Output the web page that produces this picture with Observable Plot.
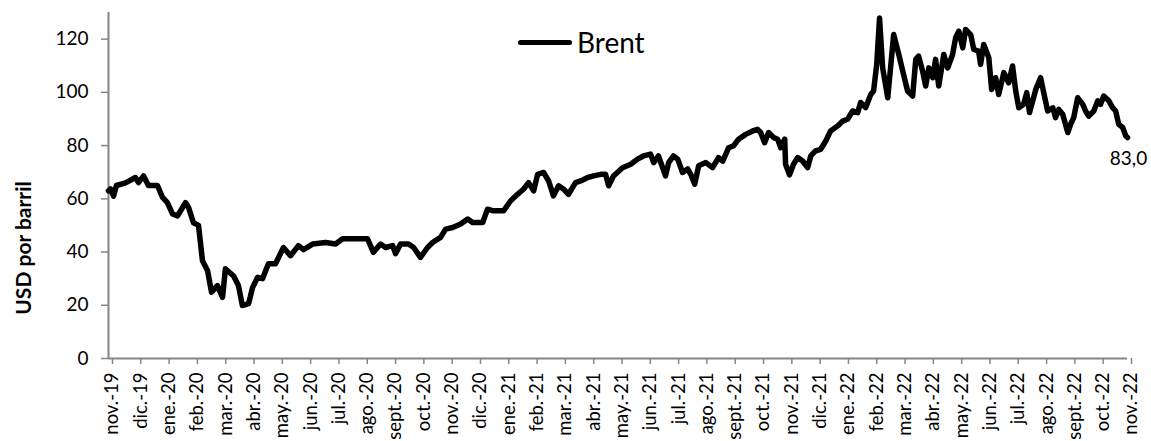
<!DOCTYPE html>
<html><head><meta charset="utf-8">
<script src="https://cdn.jsdelivr.net/npm/d3@7"></script>
<script src="https://cdn.jsdelivr.net/npm/@observablehq/plot@0.6"></script>
<style>
body{margin:0;background:#fff;}
#wrap{position:relative;width:1151px;height:441px;font-family:Lato,sans-serif;color:#000;}
#legend{position:absolute;left:518px;top:22px;height:40px;display:flex;align-items:center;font-size:28px;}
#legend .sw{display:inline-block;width:54px;height:5px;background:#000;border-radius:3px;margin-right:5px;}
#ytitle{position:absolute;left:22px;top:248px;transform:translate(-50%,-50%) rotate(-90deg);white-space:nowrap;font-weight:bold;font-size:21px;}
</style></head><body>
<div id="wrap"><div id="chart"></div>
<div id="legend"><span class="sw"></span><span>Brent</span></div>
<div id="ytitle">USD por barril</div>
</div>
<script>
const monthLabels = ["nov.-19","dic.-19","ene.-20","feb.-20","mar.-20","abr.-20","may.-20","jun.-20","jul.-20","ago.-20","sept.-20","oct.-20","nov.-20","dic.-20","ene.-21","feb.-21","mar.-21","abr.-21","may.-21","jun.-21","jul.-21","ago.-21","sept.-21","oct.-21","nov.-21","dic.-21","ene.-22","feb.-22","mar.-22","abr.-22","may.-22","jun.-22","jul.-22","ago.-22","sept.-22","oct.-22","nov.-22"];
const yTicks = [0,20,40,60,80,100,120];
// time position in months since nov.-19
const monthPos = [0,0.07,0.18,0.28,0.60,0.95,1.06,1.24,1.41,1.73,1.91,2.08,2.26,2.44,2.72,2.83,3.00,3.18,3.32,3.50,3.64,3.85,4.03,4.13,4.42,4.59,4.73,4.95,5.09,5.27,5.44,5.65,5.90,6.18,6.43,6.71,6.89,7.21,7.67,8.02,8.27,8.73,9.01,9.15,9.36,9.61,9.79,10.04,10.14,10.32,10.60,10.78,11.02,11.27,11.45,11.73,11.91,12.16,12.44,12.69,12.86,13.22,13.39,13.60,13.96,14.20,14.45,14.66,14.84,15.02,15.16,15.37,15.55,15.72,15.90,16.08,16.25,16.50,16.68,16.93,17.14,17.39,17.56,17.67,17.84,18.16,18.45,18.69,18.90,19.15,19.26,19.43,19.68,19.79,19.96,20.11,20.28,20.46,20.57,20.71,20.85,21.10,21.34,21.55,21.70,21.91,22.08,22.26,22.51,22.76,22.93,23.04,23.18,23.32,23.50,23.64,23.75,23.89,23.92,24.06,24.20,24.35,24.52,24.70,24.81,24.98,25.16,25.34,25.51,25.76,25.94,26.11,26.29,26.47,26.57,26.75,26.93,27.03,27.14,27.24,27.35,27.53,27.74,27.92,28.06,28.23,28.41,28.52,28.62,28.76,28.87,28.98,29.12,29.22,29.33,29.51,29.65,29.82,29.93,30.04,30.18,30.28,30.46,30.57,30.74,30.81,30.92,31.10,31.20,31.34,31.45,31.63,31.80,31.94,32.05,32.16,32.33,32.44,32.54,32.76,32.93,33.04,33.18,33.36,33.46,33.57,33.71,33.89,33.99,34.10,34.24,34.42,34.52,34.63,34.81,34.95,35.05,35.16,35.34,35.48,35.58,35.69,35.83,35.94,36.00];
const brent = [63.0,63.7,61.0,65.0,66.0,68.0,66.1,68.6,65.0,65.0,60.5,58.6,54.3,53.6,58.6,56.7,51.0,50.0,36.7,33.0,24.9,27.4,23.0,33.7,31.0,27.4,19.9,20.6,26.7,30.5,30.0,35.6,35.6,41.7,38.6,42.4,40.9,43.0,43.6,43.0,45.0,45.0,45.0,45.0,39.9,43.0,41.7,42.4,39.4,43.0,43.0,41.7,38.0,41.7,43.6,45.5,48.6,49.2,50.5,52.4,51.1,51.1,56.1,55.5,55.5,59.2,61.7,63.6,66.1,63.0,69.2,69.9,66.7,61.1,64.9,63.6,61.7,66.1,66.7,68.0,68.6,69.2,69.2,64.9,68.6,71.7,73.0,74.9,76.1,76.8,73.6,76.1,68.6,73.6,76.1,74.9,69.9,71.2,69.2,65.5,72.4,73.6,71.7,75.5,74.2,79.2,79.9,82.4,84.2,85.5,86.1,84.9,81.1,84.9,83.0,82.4,79.2,82.4,73.0,69.0,73.0,75.5,74.2,71.7,76.1,78.0,78.6,81.7,85.5,87.4,89.2,89.9,93.0,92.4,96.2,94.3,99.2,100.5,110.5,127.9,109.2,98.0,121.7,114.2,108.0,100.5,98.6,112.4,113.6,108.0,102.4,109.2,105.5,112.4,102.4,114.2,109.2,114.2,120.6,123.0,116.7,123.6,121.7,116.1,115.5,110.5,118.0,113.0,101.1,105.5,99.2,107.4,103.6,109.9,100.5,94.2,95.5,99.9,92.4,101.1,105.5,99.9,93.0,94.2,90.5,93.6,91.8,84.9,88.0,90.5,98.0,95.5,93.0,91.1,93.0,96.8,95.5,98.6,96.8,94.2,93.0,88.0,86.8,83.6,83.0];

const data = monthPos.map((m, i) => ({m, v: brent[i]}));
const last = data[data.length - 1];
const axisGray = "#868686";

const chart = Plot.plot({
  width: 1151, height: 441,
  marginLeft: 108, marginRight: 24, marginTop: 12, marginBottom: 83,
  style: {fontFamily: "Lato, sans-serif", fontSize: "19px", color: "#000", background: "#fff", overflow: "visible"},
  x: {type: "linear", domain: [0, monthLabels.length - 1]},
  y: {domain: [0, 130]},
  marks: [
    Plot.axisY({ticks: yTicks, tickSize: 7, tickPadding: 13, stroke: axisGray, strokeWidth: 1.5, label: null, fontSize: 19}),
    Plot.axisX({ticks: monthLabels.map((_, i) => i), tickFormat: i => monthLabels[i], tickRotate: -90, tickSize: 6, tickPadding: 8, stroke: axisGray, strokeWidth: 1.5, label: null, fontSize: 18.5, dx: 4}),
    Plot.ruleX([0], {stroke: axisGray, strokeWidth: 2}),
    Plot.ruleY([0], {stroke: axisGray, strokeWidth: 2}),
    Plot.line(data, {x: "m", y: "v", stroke: "#000", strokeWidth: 5.5, strokeLinejoin: "round", strokeLinecap: "round"}),
    Plot.text([last], {x: "m", y: "v", text: d => d.v.toFixed(1).replace(".", ","), dy: 21, dx: 1, fontSize: 19, textAnchor: "middle", fill: "#000"})
  ]
});
document.getElementById("chart").appendChild(chart);
</script>
</body></html>
